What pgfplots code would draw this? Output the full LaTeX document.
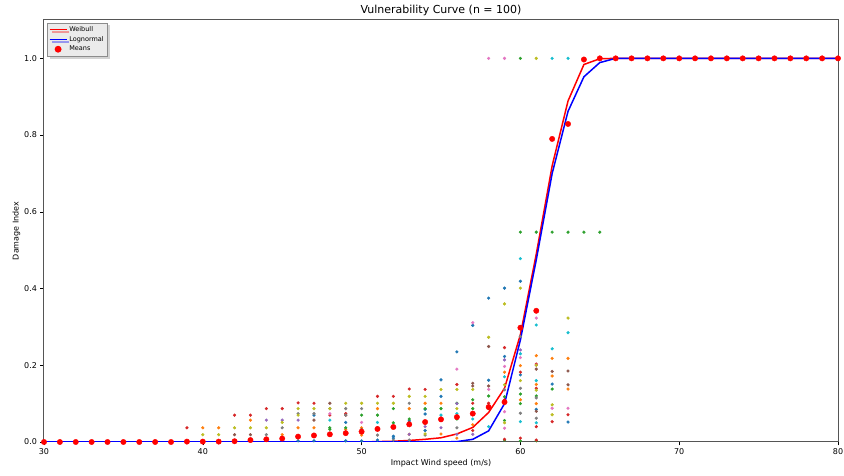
\documentclass[border=0pt]{standalone}
\usepackage{fontspec}
\setmainfont{DejaVu Sans}
\usepackage{pgfplots}
\pgfplotsset{compat=1.18}
\usetikzlibrary{shadows}
\definecolor{tabblue}{HTML}{1F77B4}
\definecolor{taborange}{HTML}{FF7F0E}
\definecolor{tabgreen}{HTML}{2CA02C}
\definecolor{tabred}{HTML}{D62728}
\definecolor{tabpurple}{HTML}{9467BD}
\definecolor{tabbrown}{HTML}{8C564B}
\definecolor{tabpink}{HTML}{E377C2}
\definecolor{tabgray}{HTML}{7F7F7F}
\definecolor{tabolive}{HTML}{BCBD22}
\definecolor{tabcyan}{HTML}{17BECF}
\definecolor{axisgray}{HTML}{555555}
\pgfplotsset{
  pts/.style={only marks,mark=*,mark size=1.4pt,forget plot},
}
\begin{document}
\begin{tikzpicture}
\path[use as bounding box] (-44pt,-34pt) rectangle (800pt,442pt);
\begin{axis}[
  at={(0pt,0pt)},anchor=south west,
  scale only axis,
  width=794pt,height=422pt,
  xmin=30,xmax=80,ymin=0,ymax=1.1,
  xtick={30,40,50,60,70,80},
  ytick={0,0.2,0.4,0.6,0.8,1.0},
  yticklabel style={/pgf/number format/.cd,fixed,fixed zerofill,precision=1},
  /pgf/number format/assume math mode=true,
  tick label style={font=\fontsize{8}{9}\selectfont},
  tick align=outside,tick pos=left,
  major tick length=3.5pt,
  axis line style={draw=axisgray,line width=1pt},
  tick style={draw=black,line width=0.6pt},
  title={Vulnerability Curve (n = 100)},
  title style={font=\fontsize{11}{13}\selectfont,yshift=-5pt},
  xlabel={Impact Wind speed (m/s)},
  ylabel={Damage Index},
  xlabel style={font=\fontsize{8}{9}\selectfont,yshift=3pt},
  ylabel style={font=\fontsize{8}{9}\selectfont,yshift=-3pt},
  legend style={at={(0.004,0.994)},anchor=north west,
    font=\fontsize{6.5}{7.5}\selectfont,
    fill=black!8,draw=black!45,drop shadow={opacity=0.35},
    inner sep=1.5pt,row sep=-0.5pt,
    legend cell align=left},
  legend image post style={line width=1.4pt},
]
% individual simulation points
\addplot[pts,color=tabblue] coordinates {(46,0.003)(47,0.07)(47,0.003)(49,0.051)(49,0.003)(50,0.003)(51,0.005)(52,0.015)(52,0.01)(53,0.055)(54,0.085)(54,0.073)(54,0.03)(55,0.162)(55,0.119)(56,0.235)(57,0.304)(58,0.375)(58,0.161)(59,0.401)(59,0.223)(60,0.419)(60,0.175)(61,0.085)(62,0.151)(63,0.052)};
\addplot[pts,color=taborange] coordinates {(40,0.037)(41,0.037)(43,0.057)(45,0.019)(46,0.037)(47,0.037)(48,0.018)(49,0.033)(50,0.037)(50,0.018)(51,0.087)(53,0.087)(53,0.02)(54,0.101)(55,0.101)(55,0.021)(56,0.01)(57,0.045)(59,0.182)(60,0.199)(60,0.11)(61,0.225)(61,0.15)(61,0.1)(62,0.172)(62,0.218)(63,0.218)(63,0.138)};
\addplot[pts,color=tabgreen] coordinates {(46,0.016)(47,0.018)(48,0.037)(48,0.033)(49,0.037)(50,0.07)(51,0.07)(51,0.037)(52,0.087)(52,0.05)(53,0.06)(54,0.087)(55,0.087)(56,0.101)(56,0.06)(57,0.11)(57,0.087)(58,0.12)(58,0.087)(59,0.118)(59,0.056)(60,0.547)(60,0.125)(60,0.1)(61,0.547)(61,0.12)(62,0.547)(62,0.138)(63,0.547)(64,0.547)(65,0.547)(60,1.0)(59,0.005)(60,0.003)(61,0.003)};
\addplot[pts,color=tabred] coordinates {(39,0.037)(42,0.07)(43,0.07)(44,0.087)(45,0.087)(46,0.102)(47,0.101)(48,0.07)(49,0.074)(49,0.07)(51,0.119)(52,0.119)(53,0.138)(54,0.137)(56,0.15)(57,0.101)(57,0.03)(58,0.101)(59,0.246)(59,0.11)(59,0.007)(60,0.182)(60,0.01)(61,0.203)(61,0.14)(61,0.04)(61,0.005)(62,0.053)(63,0.071)};
\addplot[pts,color=tabpurple] coordinates {(44,0.057)(45,0.057)(46,0.057)(53,0.02)(54,0.04)(55,0.037)(56,0.1)(56,0.02)(57,0.02)(59,0.214)(60,0.24)};
\addplot[pts,color=tabbrown] coordinates {(42,0.019)(43,0.019)(47,0.057)(48,0.101)(50,0.033)(53,0.051)(57,0.153)(57,0.146)(58,0.249)(58,0.146)(61,0.19)(61,0.08)(62,0.184)(63,0.185)(63,0.149)};
\addplot[pts,color=tabpink] coordinates {(48,0.074)(50,0.051)(56,0.19)(57,0.311)(58,0.137)(59,0.197)(59,0.079)(59,0.036)(60,0.22)(61,0.323)(61,0.2)(62,0.088)(63,0.088)(58,1.0)(59,1.0)};
\addplot[pts,color=tabgray] coordinates {(44,0.019)(45,0.037)(46,0.074)(47,0.074)(48,0.087)(49,0.087)(49,0.07)(50,0.087)(51,0.018)(52,0.005)(53,0.101)(53,0.005)(54,0.049)(54,0.018)(56,0.037)(59,0.136)(60,0.275)(60,0.14)(60,0.075)(61,0.115)(61,0.062)};
\addplot[pts,color=tabolive] coordinates {(40,0.019)(41,0.019)(42,0.037)(43,0.037)(44,0.037)(45,0.051)(46,0.087)(46,0.07)(47,0.087)(48,0.087)(49,0.101)(50,0.101)(51,0.101)(52,0.101)(53,0.119)(54,0.119)(54,0.021)(55,0.137)(56,0.137)(56,0.087)(57,0.137)(58,0.273)(59,0.36)(59,0.149)(59,0.05)(60,0.401)(60,0.16)(61,0.2)(61,0.135)(61,1.0)(62,0.097)(62,0.071)(63,0.323)};
\addplot[pts,color=tabcyan] coordinates {(48,0.057)(51,0.051)(55,0.07)(56,0.074)(57,0.06)(58,0.04)(59,0.17)(60,0.478)(60,0.23)(60,0.053)(61,0.305)(61,0.16)(61,0.05)(62,0.243)(62,1.0)(63,0.285)(63,1.0)(64,1.0)};
% fitted curves
\addplot[color=red,line width=1.5pt,mark=none] coordinates {(30,0)(35,0)(40,0)(45,0)(50,0)(51,0.001)(52,0.002)(53,0.004)(54,0.007)(55,0.011)(56,0.021)(57,0.038)(58,0.077)(59,0.14)(60,0.28)(61,0.49)(62,0.72)(63,0.889)(64,0.984)(65,0.999)(66,1)(70,1)(75,1)(80,1)};
\addlegendentry{Weibull}
\addplot[color=blue,line width=1.5pt,mark=none] coordinates {(30,0)(40,0)(50,0)(55,0)(56,0.001)(57,0.007)(58,0.029)(59,0.1)(60,0.266)(61,0.475)(62,0.7)(63,0.862)(64,0.952)(65,0.989)(66,1)(70,1)(75,1)(80,1)};
\addlegendentry{Lognormal}
% means
\addplot[only marks,mark=*,mark size=2.7pt,color=red] coordinates {(30,0)(31,0)(32,0)(33,0)(34,0)(35,0)(36,0)(37,0)(38,0)(39,0.001)(40,0.001)(41,0.001)(42,0.002)(43,0.005)(44,0.007)(45,0.009)(46,0.014)(47,0.017)(48,0.02)(49,0.023)(50,0.027)(51,0.034)(52,0.039)(53,0.046)(54,0.052)(55,0.059)(56,0.065)(57,0.074)(58,0.091)(59,0.104)(60,0.298)(61,0.342)(62,0.79)(63,0.829)(64,0.997)(65,1)(66,1)(67,1)(68,1)(69,1)(70,1)(71,1)(72,1)(73,1)(74,1)(75,1)(76,1)(77,1)(78,1)(79,1)(80,1)};
\addlegendentry{Means}
\end{axis}
\end{tikzpicture}
\end{document}
